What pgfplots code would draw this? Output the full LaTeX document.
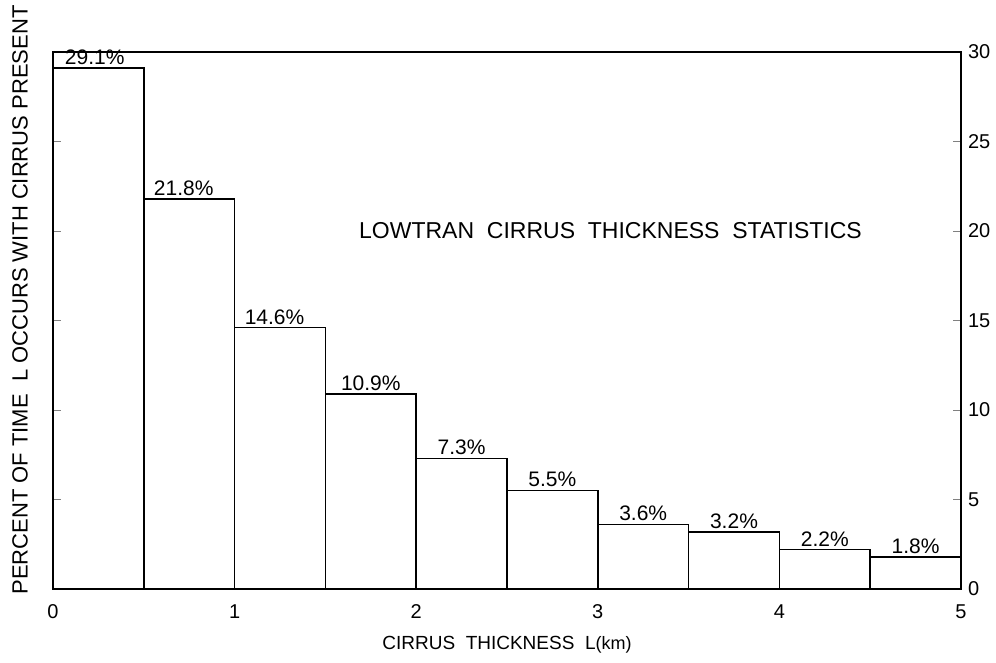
\documentclass[border=0pt]{standalone}
\usepackage{pgfplots}
\pgfplotsset{compat=1.18}
\usepackage{fontspec}
\setmainfont{Liberation Sans}
\begin{document}
\begin{tikzpicture}
\begin{axis}[
  scale only axis,
  width=454pt, height=268.5pt,
  xmin=0, xmax=5, ymin=0, ymax=30,
  xtick={0,1,2,3,4,5},
  ytick={0,5,10,15,20,25,30},
  yticklabel pos=right,
  ytick pos=both,
  tick align=inside,
  major tick length=4pt,
  x tick style={draw=none},
  axis line style={line width=0.9pt},
  /pgf/number format/assume math mode=true,
  ticklabel style={font=\fontsize{10}{12}\selectfont},
  xticklabel style={text height=7pt, text depth=0pt, anchor=north, yshift=-4pt},
  xlabel={CIRRUS \ THICKNESS \ L{\small(km)}},
  ylabel={PERCENT OF TIME \ L OCCURS WITH CIRRUS PRESENT},
  xlabel style={font=\fontsize{9.5}{12}\selectfont, yshift=-2pt},
  ylabel style={font=\fontsize{11}{13}\selectfont, at={(rel axis cs:-0.028,0.538)}, anchor=base},
  clip=false,
]
\addplot[ybar interval, draw=black, fill=none, line width=0.8pt]
  coordinates {(0,29.1) (0.5,21.8) (1,14.6) (1.5,10.9) (2,7.3) (2.5,5.5) (3,3.6) (3.5,3.2) (4,2.2) (4.5,1.8) (5,1.8)};
\addplot[draw=none, mark=none, nodes near coords, point meta=explicit symbolic,
  every node near coord/.style={anchor=south, inner sep=1.5pt, font=\fontsize{10.5}{12}\selectfont}]
  table[meta=lab] {
x y lab
0.23 29.1 29.1\%
0.72 21.8 21.8\%
1.22 14.6 14.6\%
1.75 10.9 10.9\%
2.25 7.3 7.3\%
2.75 5.5 5.5\%
3.25 3.6 3.6\%
3.75 3.2 3.2\%
4.25 2.2 2.2\%
4.75 1.8 1.8\%
};
\node[font=\fontsize{11.5}{13}\selectfont] at (axis cs:3.07,20.05) {LOWTRAN \ CIRRUS \ THICKNESS \ STATISTICS};
\end{axis}
\pgfresetboundingbox
\useasboundingbox (-26.5pt,-37pt) rectangle (471.5pt,294.5pt);
\end{tikzpicture}
\end{document}
